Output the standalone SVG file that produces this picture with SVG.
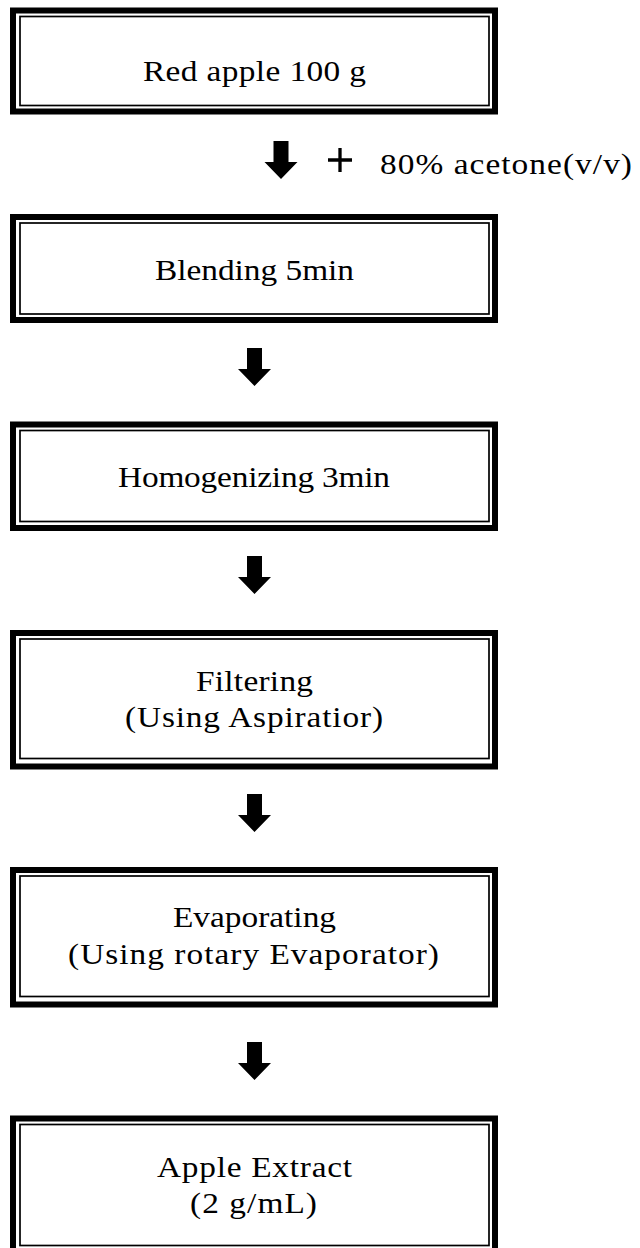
<svg xmlns="http://www.w3.org/2000/svg" xmlns:xlink="http://www.w3.org/1999/xlink" width="640" height="1248" viewBox="0 0 640 1248">
<style>
.outer{fill:#fff;stroke:#000;stroke-width:6}
.inner{fill:none;stroke:#000;stroke-width:1.7}
.lbl{font-family:"Liberation Serif","DejaVu Serif",serif;font-size:29px;fill:#000}
.arr{fill:#000}
</style>
<defs>
<path id="arrow" d="M-7.5,0 H7.5 V21 H16.5 L0,38 L-16.5,21 H-7.5 Z"/>
</defs>
<rect width="640" height="1248" fill="#fff"/>
<g id="connectors">
<use xlink:href="#arrow" class="arr" transform="translate(281,141)"/>
<path d="M328,160 H352 M340,148 V172" stroke="#000" stroke-width="3.3" fill="none"/>
<text class="lbl" transform="scale(1.15,1)" x="330.43" y="174" textLength="219.13" lengthAdjust="spacing">80% acetone(v/v)</text>
<use xlink:href="#arrow" class="arr" transform="translate(254.5,348)"/>
<use xlink:href="#arrow" class="arr" transform="translate(254.5,556)"/>
<use xlink:href="#arrow" class="arr" transform="translate(254.5,794)"/>
<use xlink:href="#arrow" class="arr" transform="translate(254.5,1042)"/>
</g>
<g id="node-red-apple">
<rect class="outer" x="13" y="10.5" width="482" height="101"/>
<rect class="inner" x="20" y="16.5" width="469" height="89"/>
<text class="lbl" transform="scale(1.15,1)" x="124.35" y="81" textLength="193.9" lengthAdjust="spacing">Red apple 100 g</text>
</g>
<g id="node-blending">
<rect class="outer" x="13" y="217" width="482" height="103"/>
<rect class="inner" x="20" y="223" width="469" height="91"/>
<text class="lbl" transform="scale(1.15,1)" x="134.78" y="280" textLength="173.04" lengthAdjust="spacing">Blending 5min</text>
</g>
<g id="node-homogenizing">
<rect class="outer" x="13" y="424.5" width="482" height="103.5"/>
<rect class="inner" x="20" y="430.5" width="469" height="91"/>
<text class="lbl" transform="scale(1.15,1)" x="102.61" y="487" textLength="236.52" lengthAdjust="spacing">Homogenizing 3min</text>
</g>
<g id="node-filtering">
<rect class="outer" x="13" y="633" width="482" height="133.5"/>
<rect class="inner" x="20" y="639" width="469" height="119.5"/>
<text class="lbl" transform="scale(1.15,1)" x="170.43" y="691" textLength="101.74" lengthAdjust="spacing">Filtering</text>
<text class="lbl" transform="scale(1.15,1)" x="108.7" y="727" textLength="224.35" lengthAdjust="spacing">(Using Aspiratior)</text>
</g>
<g id="node-evaporating">
<rect class="outer" x="13" y="870" width="482" height="134.5"/>
<rect class="inner" x="20" y="876" width="469" height="120.5"/>
<text class="lbl" transform="scale(1.15,1)" x="150.43" y="927" textLength="141.74" lengthAdjust="spacing">Evaporating</text>
<text class="lbl" transform="scale(1.15,1)" x="59.13" y="964" textLength="322.61" lengthAdjust="spacing">(Using rotary Evaporator)</text>
</g>
<g id="node-apple-extract">
<rect class="outer" x="13" y="1118.5" width="482" height="134"/>
<rect class="inner" x="20" y="1124.5" width="469" height="121"/>
<text class="lbl" transform="scale(1.15,1)" x="136.52" y="1177" textLength="169.57" lengthAdjust="spacing">Apple Extract</text>
<text class="lbl" transform="scale(1.15,1)" x="165.22" y="1213" textLength="110.43" lengthAdjust="spacing">(2 g/mL)</text>
</g>
</svg>
